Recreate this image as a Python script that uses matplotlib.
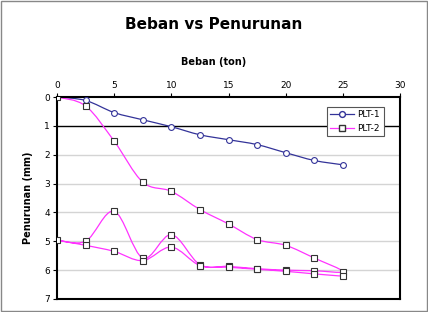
import matplotlib
matplotlib.use("Agg")
import matplotlib.pyplot as plt
import numpy as np
from matplotlib.path import Path
from matplotlib.patches import PathPatch, Rectangle
from matplotlib.lines import Line2D

# data
plt1_beban = [0, 2.5, 5, 7.5, 10, 12.5, 15, 17.5, 20, 22.5, 25]
plt1_turun = [0, 0.12, 0.54, 0.79, 1.03, 1.31, 1.48, 1.65, 1.93, 2.2, 2.35]

# PLT-2: loading 0->25, unloading 25->0, reloading 0->25
plt2_beban = [0, 2.5, 5, 7.5, 10, 12.5, 15, 17.5, 20, 22.5, 25,
              22.5, 20, 17.5, 15, 12.5, 10, 7.5, 5, 2.5, 0,
              2.5, 5, 7.5, 10, 12.5, 15, 17.5, 20, 22.5, 25]
plt2_turun = [0, 0.31, 1.53, 2.95, 3.27, 3.9, 4.4, 4.94, 5.14, 5.58, 6.05,
              6.02, 6.0, 5.95, 5.87, 5.81, 4.77, 5.58, 3.96, 5.0, 4.95,
              5.14, 5.35, 5.67, 5.2, 5.84, 5.9, 5.97, 6.04, 6.13, 6.21]

x_ticks = [0, 5, 10, 15, 20, 25, 30]
y_ticks = [0, 1, 2, 3, 4, 5, 6, 7]

c1 = "#333399"
c2 = "#ff33ff"


def smooth_path(xs, ys):
    # Excel-style smoothed line: cubic Bezier with 1/6 tangents
    p = np.column_stack([xs, ys]).astype(float)
    n = len(p)
    verts = [p[0]]
    codes = [Path.MOVETO]
    for i in range(n - 1):
        p0 = p[i - 1] if i > 0 else p[i]
        p3 = p[i + 2] if i + 2 < n else p[i + 1]
        c_a = p[i] + (p[i + 1] - p0) / 6.0
        c_b = p[i + 1] - (p3 - p[i]) / 6.0
        verts += [c_a, c_b, p[i + 1]]
        codes += [Path.CURVE4] * 3
    return Path(verts, codes)


fig = plt.figure(figsize=(4.28, 3.12), dpi=100)
ax = fig.add_axes([0.1332, 0.0417, 0.8014, 0.6474])

for y in [2, 3, 4, 5, 6]:
    ax.axhline(y, color="#d4d4d4", lw=1, zorder=0)
ax.axhline(1, color="black", lw=1, zorder=1)

ax.add_patch(PathPatch(smooth_path(plt1_beban, plt1_turun), fill=False,
                       edgecolor=c1, lw=0.9, zorder=2))
ax.add_patch(PathPatch(smooth_path(plt2_beban, plt2_turun), fill=False,
                       edgecolor=c2, lw=0.9, zorder=2))
ax.plot(plt1_beban, plt1_turun, ls="none", marker="o", ms=4.2, mfc="white",
        mec=c1, mew=0.8, zorder=3)
ax.plot(plt2_beban, plt2_turun, ls="none", marker="s", ms=4.0, mfc="white",
        mec="#333333", mew=0.8, zorder=3)

ax.set_xlim(0, 30)
ax.set_ylim(7, 0)
ax.xaxis.tick_top()
ax.set_xticks(x_ticks)
ax.set_yticks(y_ticks)
ax.tick_params(axis="both", labelsize=6.5, length=3, width=0.8, pad=2,
               colors="black")
for s in ax.spines.values():
    s.set_linewidth(1.5)

ax.set_ylabel("Penurunan (mm)", fontsize=7, fontweight="bold", labelpad=8)

handles = [
    Line2D([], [], color=c1, lw=0.9, marker="o", ms=4.2, mfc="white", mec=c1),
    Line2D([], [], color=c2, lw=0.9, marker="s", ms=4.0, mfc="white", mec="#333333"),
]
leg = ax.legend(handles, ["PLT-1", "PLT-2"], loc="upper right",
                bbox_to_anchor=(0.952, 0.952), borderaxespad=0,
                fontsize=6.5, frameon=True, fancybox=False, framealpha=1,
                handlelength=2.6, borderpad=0.4, labelspacing=0.5,
                handletextpad=0.4)
leg.get_frame().set_edgecolor("#555555")
leg.get_frame().set_linewidth(0.8)

fig.text(0.5, 0.922, "Beban vs Penurunan", ha="center", va="center",
         fontsize=11, fontweight="bold")
fig.text(0.5, 0.80, "Beban (ton)", ha="center", va="center",
         fontsize=7, fontweight="bold")

fig.add_artist(Rectangle((0.002, 0.003), 0.995, 0.994, transform=fig.transFigure,
                         fill=False, edgecolor="#888888", lw=1))

fig.savefig("out.png", dpi=100)
